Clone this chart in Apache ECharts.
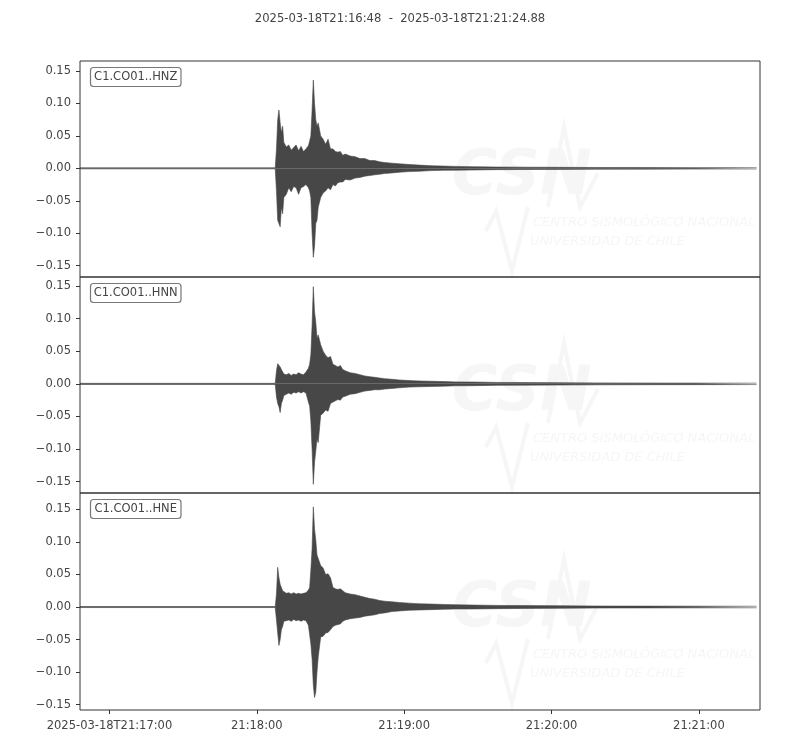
<!DOCTYPE html>
<html>
<head>
<meta charset="utf-8">
<script src="https://cdn.jsdelivr.net/npm/echarts@6/dist/echarts.min.js"></script>
<style>html,body{margin:0;padding:0;background:#fff}#c{width:800px;height:750px}</style>
</head>
<body>
<div id="c"></div>
<script>
// time in seconds since 2025-03-18T21:16:48
const T = [0, 79.5, 80, 80.5, 81, 81.5, 82, 82.5, 83, 84, 85, 86, 87, 88, 89, 90, 91, 92, 93, 93.5, 94, 94.5, 95, 95.5, 96, 96.5, 97, 98, 99, 100, 101, 102, 103, 104, 105, 106, 107, 108, 110, 112, 114, 116, 118, 120, 122, 124, 127, 130, 134, 138, 143, 148, 153, 160, 170, 180, 195, 210, 230, 250, 275.5];

const channels = ['C1.CO01..HNZ', 'C1.CO01..HNN', 'C1.CO01..HNE'];

// envelope (upper / lower) of each trace
const hnzMax = [0.0008, 0.0008, 0.03, 0.075, 0.09, 0.07, 0.055, 0.065, 0.04, 0.033, 0.036, 0.028, 0.032, 0.036, 0.027, 0.034, 0.026, 0.03, 0.035, 0.042, 0.05, 0.09, 0.136, 0.1, 0.075, 0.065, 0.07, 0.05, 0.045, 0.037, 0.045, 0.03, 0.03, 0.026, 0.025, 0.026, 0.02, 0.022, 0.019, 0.018, 0.015, 0.015, 0.012, 0.012, 0.01, 0.009, 0.008, 0.007, 0.006, 0.005, 0.004, 0.0035, 0.003, 0.0025, 0.002, 0.0018, 0.0016, 0.0013, 0.0012, 0.0011, 0.001];
const hnzMin = [-0.0008, -0.0008, -0.035, -0.08, -0.085, -0.09, -0.06, -0.07, -0.045, -0.04, -0.03, -0.036, -0.028, -0.03, -0.04, -0.03, -0.028, -0.025, -0.03, -0.035, -0.045, -0.1, -0.137, -0.12, -0.085, -0.08, -0.06, -0.045, -0.038, -0.035, -0.03, -0.033, -0.025, -0.027, -0.022, -0.021, -0.021, -0.017, -0.018, -0.015, -0.014, -0.012, -0.011, -0.01, -0.009, -0.008, -0.007, -0.006, -0.005, -0.0045, -0.0035, -0.003, -0.0028, -0.0025, -0.002, -0.0018, -0.0016, -0.0013, -0.0012, -0.0011, -0.001];

const hnnMax = [0.0008, 0.0008, 0.02, 0.031, 0.028, 0.026, 0.022, 0.02, 0.015, 0.014, 0.016, 0.013, 0.015, 0.014, 0.017, 0.015, 0.014, 0.018, 0.024, 0.03, 0.045, 0.09, 0.149, 0.11, 0.095, 0.07, 0.075, 0.06, 0.05, 0.044, 0.04, 0.042, 0.03, 0.028, 0.026, 0.028, 0.022, 0.02, 0.017, 0.016, 0.014, 0.012, 0.011, 0.01, 0.009, 0.008, 0.007, 0.006, 0.005, 0.0045, 0.004, 0.0035, 0.003, 0.0028, 0.0022, 0.002, 0.0018, 0.0015, 0.0013, 0.0012, 0.0011];
const hnnMin = [-0.0008, -0.0008, -0.02, -0.03, -0.035, -0.044, -0.03, -0.025, -0.018, -0.016, -0.014, -0.016, -0.013, -0.014, -0.012, -0.014, -0.012, -0.014, -0.028, -0.034, -0.057, -0.1, -0.154, -0.12, -0.103, -0.085, -0.09, -0.048, -0.045, -0.04, -0.042, -0.03, -0.028, -0.026, -0.024, -0.025, -0.02, -0.019, -0.016, -0.015, -0.013, -0.011, -0.01, -0.009, -0.009, -0.008, -0.007, -0.006, -0.005, -0.0045, -0.004, -0.0035, -0.003, -0.0028, -0.0022, -0.002, -0.0018, -0.0015, -0.0013, -0.0012, -0.0011];

const hneMax = [0.0008, 0.0008, 0.02, 0.061, 0.045, 0.035, 0.03, 0.025, 0.023, 0.021, 0.022, 0.02, 0.022, 0.02, 0.021, 0.02, 0.021, 0.022, 0.026, 0.03, 0.057, 0.09, 0.154, 0.12, 0.103, 0.08, 0.077, 0.064, 0.06, 0.05, 0.051, 0.045, 0.03, 0.028, 0.027, 0.028, 0.025, 0.022, 0.02, 0.019, 0.017, 0.015, 0.013, 0.012, 0.01, 0.009, 0.008, 0.007, 0.006, 0.005, 0.0045, 0.004, 0.0035, 0.003, 0.0025, 0.0022, 0.002, 0.0015, 0.0014, 0.0013, 0.0012];
const hneMin = [-0.0008, -0.0008, -0.02, -0.04, -0.059, -0.05, -0.035, -0.03, -0.022, -0.021, -0.02, -0.022, -0.019, -0.021, -0.02, -0.022, -0.02, -0.021, -0.028, -0.03, -0.057, -0.08, -0.12, -0.139, -0.131, -0.1, -0.077, -0.046, -0.045, -0.04, -0.039, -0.035, -0.03, -0.028, -0.027, -0.026, -0.022, -0.02, -0.018, -0.017, -0.016, -0.014, -0.013, -0.012, -0.01, -0.009, -0.007, -0.006, -0.005, -0.0045, -0.004, -0.0035, -0.003, -0.003, -0.0025, -0.0022, -0.002, -0.0015, -0.0014, -0.0013, -0.0012];

const yTicks = [-0.15, -0.10, -0.05, 0.00, 0.05, 0.10, 0.15];
const xTicks = [12, 72, 132, 192, 252];
const xTickLabels = ['2025-03-18T21:17:00', '21:18:00', '21:19:00', '21:20:00', '21:21:00'];
const yRanges = [[-0.1674, 0.1654], [-0.1673, 0.1638], [-0.1583, 0.1753]];
const title = '2025-03-18T21:16:48  -  2025-03-18T21:21:24.88';

const envelopes = [[hnzMax, hnzMin], [hnnMax, hnnMin], [hneMax, hneMin]];
const WAVE = '#474747';
const FONT = 'DejaVu Sans';
const FS = 11.5;
const grids = [
  {left: 80, width: 680, top: 61, height: 216},
  {left: 80, width: 680, top: 277, height: 216},
  {left: 80, width: 680, top: 493, height: 217}
];

const fmtY = v => {
  const r = Math.round(v * 100) / 100;
  if (Math.abs(r) < 1e-9) return '0.00';
  return (r < 0 ? '\u2212' : '') + Math.abs(r).toFixed(2);
};

const xAxes = grids.map((g, i) => ({
  type: 'value', gridIndex: i, min: 0, max: 276.88,
  axisLine: {show: false, onZero: false},
  splitLine: {show: false},
  axisTick: {show: i === 2, inside: false, length: 4, lineStyle: {color: '#333'}, customValues: xTicks},
  axisLabel: {show: i === 2, margin: 10, fontFamily: FONT, fontSize: FS, color: '#444',
    customValues: xTicks,
    formatter: v => { const k = xTicks.findIndex(t => Math.abs(t - v) < 1e-6); return k >= 0 ? xTickLabels[k] : ''; }}
}));
const yAxes = grids.map((g, i) => ({
  type: 'value', gridIndex: i, min: yRanges[i][0], max: yRanges[i][1],
  axisLine: {show: false},
  splitLine: {show: false},
  axisTick: {show: true, length: 4, lineStyle: {color: '#333'}, customValues: yTicks},
  axisLabel: {margin: 9, fontFamily: FONT, fontSize: FS, color: '#444', customValues: yTicks, formatter: fmtY}
}));

const series = [];
envelopes.forEach((env, i) => {
  env.forEach(arr => {
    series.push({
      type: 'line', xAxisIndex: i, yAxisIndex: i, showSymbol: false, silent: true,
      data: T.map((t, k) => [t, arr[k]]),
      lineStyle: {color: WAVE, width: 0.6},
      areaStyle: {color: WAVE, opacity: 1, origin: 0},
      z: 3
    });
  });
});

// faint watermark (CSN logo) in each panel + channel label boxes
const graphic = [];
grids.forEach((g, i) => {
  const oy = g.top;
  const wm = '#f6f6f6';
  graphic.push(
    {type: 'text', left: 452, top: oy + 86, z: 1, silent: true,
      style: {text: 'CSN', fill: wm, font: 'italic bold 62px "DejaVu Sans"'}},
    {type: 'polyline', z: 1, silent: true,
      shape: {points: [[548, oy + 146], [564, oy + 66], [580, oy + 146], [598, oy + 112]]},
      style: {stroke: wm, lineWidth: 4, fill: null}},
    {type: 'polyline', z: 1, silent: true,
      shape: {points: [[486, oy + 170], [496, oy + 150], [512, oy + 210], [528, oy + 146]]},
      style: {stroke: wm, lineWidth: 4, fill: null}},
    {type: 'text', left: 533, top: oy + 155, z: 1, silent: true,
      style: {text: 'CENTRO SISMOLÓGICO NACIONAL', fill: wm, font: 'italic 13px "DejaVu Sans"'}},
    {type: 'text', left: 530, top: oy + 174, z: 1, silent: true,
      style: {text: 'UNIVERSIDAD DE CHILE', fill: wm, font: 'italic 13px "DejaVu Sans"'}},
    {type: 'rect', z: 10, silent: true,
      shape: {x: 90.5, y: oy + 6.5, width: 90.5, height: 19, r: 3},
      style: {fill: '#fff', stroke: '#777', lineWidth: 1.2}},
    {type: 'text', z: 11, silent: true, x: 135.7, y: oy + 16.5,
      style: {text: channels[i], fill: '#444', font: FS + 'px "DejaVu Sans"', textAlign: 'center', textVerticalAlign: 'middle'}}
  );
});

const chart = echarts.init(document.getElementById('c'), null, {renderer: 'canvas'});
chart.setOption({
  animation: false,
  backgroundColor: '#fff',
  title: {text: title, left: 'center', top: 8,
    textStyle: {fontFamily: FONT, fontSize: 11.6, fontWeight: 'normal', color: '#444'}},
  grid: grids.map(g => Object.assign({show: true, borderColor: '#333', borderWidth: 1, backgroundColor: 'transparent', z: 5}, g)),
  xAxis: xAxes,
  yAxis: yAxes,
  series: series,
  graphic: graphic
});
</script>
</body>
</html>
